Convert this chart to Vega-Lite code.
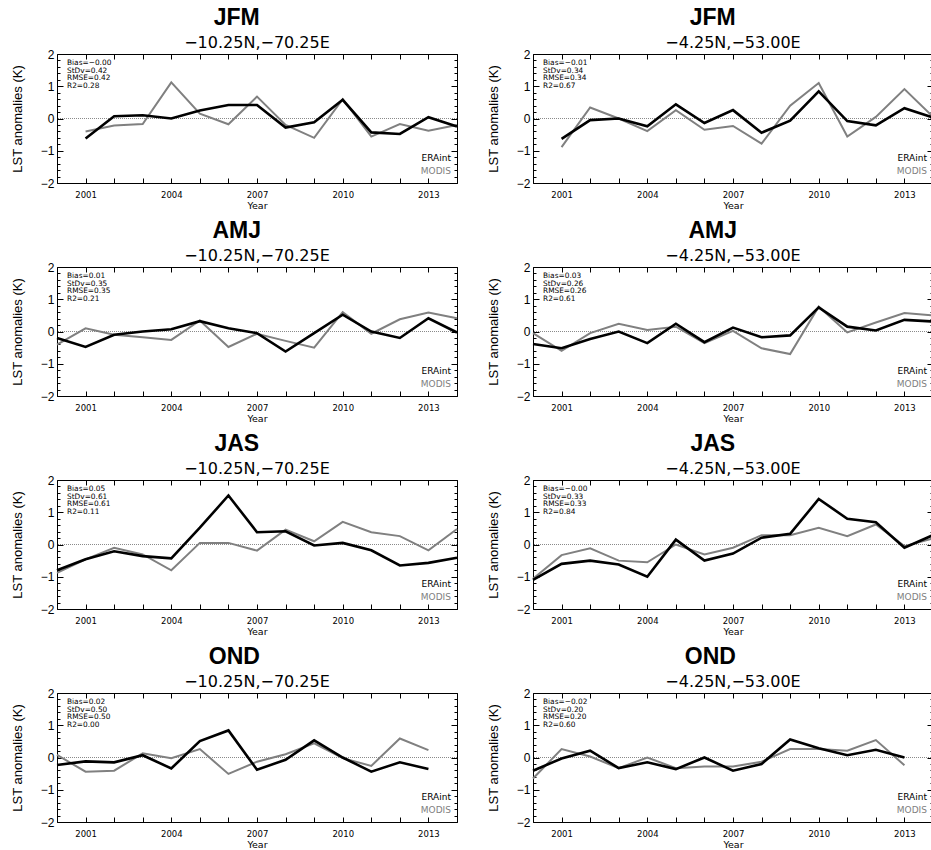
{
"$schema": "https://vega.github.io/schema/vega-lite/v6.json",
"background": "white",
"padding": {"left": 10, "top": 6, "right": 0, "bottom": 0},
"datasets": {
"series": [
{"p":"JFM_A","year":2001,"ERAint":-0.62,"MODIS":-0.40},
{"p":"JFM_A","year":2002,"ERAint":0.07,"MODIS":-0.22},
{"p":"JFM_A","year":2003,"ERAint":0.10,"MODIS":-0.17},
{"p":"JFM_A","year":2004,"ERAint":0.00,"MODIS":1.12},
{"p":"JFM_A","year":2005,"ERAint":0.25,"MODIS":0.15},
{"p":"JFM_A","year":2006,"ERAint":0.42,"MODIS":-0.18},
{"p":"JFM_A","year":2007,"ERAint":0.42,"MODIS":0.68},
{"p":"JFM_A","year":2008,"ERAint":-0.28,"MODIS":-0.20},
{"p":"JFM_A","year":2009,"ERAint":-0.12,"MODIS":-0.60},
{"p":"JFM_A","year":2010,"ERAint":0.58,"MODIS":0.60},
{"p":"JFM_A","year":2011,"ERAint":-0.43,"MODIS":-0.56},
{"p":"JFM_A","year":2012,"ERAint":-0.48,"MODIS":-0.17},
{"p":"JFM_A","year":2013,"ERAint":0.04,"MODIS":-0.38},
{"p":"JFM_A","year":2014,"ERAint":-0.25,"MODIS":-0.20},
{"p":"JFM_B","year":2001,"ERAint":-0.63,"MODIS":-0.89},
{"p":"JFM_B","year":2002,"ERAint":-0.05,"MODIS":0.34},
{"p":"JFM_B","year":2003,"ERAint":0.00,"MODIS":0.00},
{"p":"JFM_B","year":2004,"ERAint":-0.24,"MODIS":-0.39},
{"p":"JFM_B","year":2005,"ERAint":0.44,"MODIS":0.26},
{"p":"JFM_B","year":2006,"ERAint":-0.14,"MODIS":-0.35},
{"p":"JFM_B","year":2007,"ERAint":0.26,"MODIS":-0.23},
{"p":"JFM_B","year":2008,"ERAint":-0.44,"MODIS":-0.78},
{"p":"JFM_B","year":2009,"ERAint":-0.07,"MODIS":0.40},
{"p":"JFM_B","year":2010,"ERAint":0.84,"MODIS":1.10},
{"p":"JFM_B","year":2011,"ERAint":-0.08,"MODIS":-0.56},
{"p":"JFM_B","year":2012,"ERAint":-0.21,"MODIS":0.05},
{"p":"JFM_B","year":2013,"ERAint":0.32,"MODIS":0.91},
{"p":"JFM_B","year":2014,"ERAint":0.03,"MODIS":0.05},
{"p":"AMJ_A","year":2000,"ERAint":-0.20,"MODIS":-0.41},
{"p":"AMJ_A","year":2001,"ERAint":-0.48,"MODIS":0.10},
{"p":"AMJ_A","year":2002,"ERAint":-0.10,"MODIS":-0.10},
{"p":"AMJ_A","year":2003,"ERAint":0.00,"MODIS":-0.18},
{"p":"AMJ_A","year":2004,"ERAint":0.07,"MODIS":-0.26},
{"p":"AMJ_A","year":2005,"ERAint":0.32,"MODIS":0.34},
{"p":"AMJ_A","year":2006,"ERAint":0.10,"MODIS":-0.48},
{"p":"AMJ_A","year":2007,"ERAint":-0.05,"MODIS":-0.07},
{"p":"AMJ_A","year":2008,"ERAint":-0.62,"MODIS":-0.29},
{"p":"AMJ_A","year":2009,"ERAint":-0.05,"MODIS":-0.50},
{"p":"AMJ_A","year":2010,"ERAint":0.52,"MODIS":0.60},
{"p":"AMJ_A","year":2011,"ERAint":0.00,"MODIS":-0.07},
{"p":"AMJ_A","year":2012,"ERAint":-0.20,"MODIS":0.38},
{"p":"AMJ_A","year":2013,"ERAint":0.41,"MODIS":0.59},
{"p":"AMJ_A","year":2014,"ERAint":-0.03,"MODIS":0.41},
{"p":"AMJ_B","year":2000,"ERAint":-0.39,"MODIS":-0.05},
{"p":"AMJ_B","year":2001,"ERAint":-0.52,"MODIS":-0.60},
{"p":"AMJ_B","year":2002,"ERAint":-0.23,"MODIS":-0.05},
{"p":"AMJ_B","year":2003,"ERAint":0.00,"MODIS":0.24},
{"p":"AMJ_B","year":2004,"ERAint":-0.36,"MODIS":0.05},
{"p":"AMJ_B","year":2005,"ERAint":0.24,"MODIS":0.15},
{"p":"AMJ_B","year":2006,"ERAint":-0.33,"MODIS":-0.36},
{"p":"AMJ_B","year":2007,"ERAint":0.12,"MODIS":0.02},
{"p":"AMJ_B","year":2008,"ERAint":-0.18,"MODIS":-0.52},
{"p":"AMJ_B","year":2009,"ERAint":-0.12,"MODIS":-0.70},
{"p":"AMJ_B","year":2010,"ERAint":0.75,"MODIS":0.77},
{"p":"AMJ_B","year":2011,"ERAint":0.15,"MODIS":-0.03},
{"p":"AMJ_B","year":2012,"ERAint":0.03,"MODIS":0.28},
{"p":"AMJ_B","year":2013,"ERAint":0.36,"MODIS":0.57},
{"p":"AMJ_B","year":2014,"ERAint":0.31,"MODIS":0.50},
{"p":"JAS_A","year":2000,"ERAint":-0.80,"MODIS":-0.88},
{"p":"JAS_A","year":2001,"ERAint":-0.46,"MODIS":-0.46},
{"p":"JAS_A","year":2002,"ERAint":-0.21,"MODIS":-0.10},
{"p":"JAS_A","year":2003,"ERAint":-0.36,"MODIS":-0.31},
{"p":"JAS_A","year":2004,"ERAint":-0.43,"MODIS":-0.80},
{"p":"JAS_A","year":2005,"ERAint":0.52,"MODIS":0.05},
{"p":"JAS_A","year":2006,"ERAint":1.52,"MODIS":0.05},
{"p":"JAS_A","year":2007,"ERAint":0.38,"MODIS":-0.19},
{"p":"JAS_A","year":2008,"ERAint":0.41,"MODIS":0.46},
{"p":"JAS_A","year":2009,"ERAint":-0.03,"MODIS":0.10},
{"p":"JAS_A","year":2010,"ERAint":0.05,"MODIS":0.70},
{"p":"JAS_A","year":2011,"ERAint":-0.18,"MODIS":0.38},
{"p":"JAS_A","year":2012,"ERAint":-0.65,"MODIS":0.26},
{"p":"JAS_A","year":2013,"ERAint":-0.57,"MODIS":-0.18},
{"p":"JAS_A","year":2014,"ERAint":-0.41,"MODIS":0.48},
{"p":"JAS_B","year":2000,"ERAint":-1.10,"MODIS":-1.06},
{"p":"JAS_B","year":2001,"ERAint":-0.60,"MODIS":-0.33},
{"p":"JAS_B","year":2002,"ERAint":-0.50,"MODIS":-0.12},
{"p":"JAS_B","year":2003,"ERAint":-0.62,"MODIS":-0.50},
{"p":"JAS_B","year":2004,"ERAint":-1.00,"MODIS":-0.55},
{"p":"JAS_B","year":2005,"ERAint":0.15,"MODIS":0.00},
{"p":"JAS_B","year":2006,"ERAint":-0.50,"MODIS":-0.31},
{"p":"JAS_B","year":2007,"ERAint":-0.28,"MODIS":-0.10},
{"p":"JAS_B","year":2008,"ERAint":0.21,"MODIS":0.29},
{"p":"JAS_B","year":2009,"ERAint":0.33,"MODIS":0.29},
{"p":"JAS_B","year":2010,"ERAint":1.41,"MODIS":0.52},
{"p":"JAS_B","year":2011,"ERAint":0.80,"MODIS":0.26},
{"p":"JAS_B","year":2012,"ERAint":0.69,"MODIS":0.62},
{"p":"JAS_B","year":2013,"ERAint":-0.10,"MODIS":-0.05},
{"p":"JAS_B","year":2014,"ERAint":0.29,"MODIS":0.19},
{"p":"OND_A","year":2000,"ERAint":-0.23,"MODIS":0.08},
{"p":"OND_A","year":2001,"ERAint":-0.12,"MODIS":-0.44},
{"p":"OND_A","year":2002,"ERAint":-0.15,"MODIS":-0.41},
{"p":"OND_A","year":2003,"ERAint":0.07,"MODIS":0.13},
{"p":"OND_A","year":2004,"ERAint":-0.34,"MODIS":-0.02},
{"p":"OND_A","year":2005,"ERAint":0.51,"MODIS":0.26},
{"p":"OND_A","year":2006,"ERAint":0.84,"MODIS":-0.51},
{"p":"OND_A","year":2007,"ERAint":-0.38,"MODIS":-0.13},
{"p":"OND_A","year":2008,"ERAint":-0.07,"MODIS":0.10},
{"p":"OND_A","year":2009,"ERAint":0.53,"MODIS":0.44},
{"p":"OND_A","year":2010,"ERAint":0.00,"MODIS":-0.02},
{"p":"OND_A","year":2011,"ERAint":-0.44,"MODIS":-0.26},
{"p":"OND_A","year":2012,"ERAint":-0.15,"MODIS":0.59},
{"p":"OND_A","year":2013,"ERAint":-0.36,"MODIS":0.23},
{"p":"OND_B","year":2000,"ERAint":-0.41,"MODIS":-0.65},
{"p":"OND_B","year":2001,"ERAint":-0.03,"MODIS":0.26},
{"p":"OND_B","year":2002,"ERAint":0.21,"MODIS":0.03},
{"p":"OND_B","year":2003,"ERAint":-0.33,"MODIS":-0.33},
{"p":"OND_B","year":2004,"ERAint":-0.15,"MODIS":0.00},
{"p":"OND_B","year":2005,"ERAint":-0.36,"MODIS":-0.33},
{"p":"OND_B","year":2006,"ERAint":0.00,"MODIS":-0.28},
{"p":"OND_B","year":2007,"ERAint":-0.41,"MODIS":-0.28},
{"p":"OND_B","year":2008,"ERAint":-0.20,"MODIS":-0.13},
{"p":"OND_B","year":2009,"ERAint":0.56,"MODIS":0.26},
{"p":"OND_B","year":2010,"ERAint":0.29,"MODIS":0.26},
{"p":"OND_B","year":2011,"ERAint":0.07,"MODIS":0.21},
{"p":"OND_B","year":2012,"ERAint":0.24,"MODIS":0.54},
{"p":"OND_B","year":2013,"ERAint":0.00,"MODIS":-0.24}
],
"stats": [
{"p":"JFM_A","loc":"−10.25N,−70.25E","t":"Bias=−0.00\nStDv=0.42\nRMSE=0.42\nR2=0.28"},
{"p":"JFM_B","loc":"−4.25N,−53.00E","t":"Bias=−0.01\nStDv=0.34\nRMSE=0.34\nR2=0.67"},
{"p":"AMJ_A","loc":"−10.25N,−70.25E","t":"Bias=0.01\nStDv=0.35\nRMSE=0.35\nR2=0.21"},
{"p":"AMJ_B","loc":"−4.25N,−53.00E","t":"Bias=0.03\nStDv=0.26\nRMSE=0.26\nR2=0.61"},
{"p":"JAS_A","loc":"−10.25N,−70.25E","t":"Bias=0.05\nStDv=0.61\nRMSE=0.61\nR2=0.11"},
{"p":"JAS_B","loc":"−4.25N,−53.00E","t":"Bias=−0.00\nStDv=0.33\nRMSE=0.33\nR2=0.84"},
{"p":"OND_A","loc":"−10.25N,−70.25E","t":"Bias=0.02\nStDv=0.50\nRMSE=0.50\nR2=0.00"},
{"p":"OND_B","loc":"−4.25N,−53.00E","t":"Bias=−0.02\nStDv=0.20\nRMSE=0.20\nR2=0.60"}
]
},
"columns": 2,
"spacing": {"row": 8, "column": 23},
"concat": [
{"title": {"text": "JFM"}, "width": 400, "height": 129,
  "resolve": {"axis": {"x": "independent", "y": "independent"}},
  "layer": [
   {"data": {"values": [{}]}, "mark": {"type": "rule", "color": "#8a8a8a", "strokeDash": [1, 1], "strokeWidth": 1}, "encoding": {"y": {"datum": 0, "type": "quantitative", "axis": null}}},
   {"data": {"values": [{}]}, "mark": {"type": "point", "opacity": 0}, "encoding": {"x": {"datum": 2000, "type": "quantitative", "axis": {"orient": "top", "values": [2000,2001,2002,2003,2004,2005,2006,2007,2008,2009,2010,2011,2012,2013,2014], "tickSize": -5, "labels": false, "title": null}}, "y": {"datum": 0, "type": "quantitative", "axis": {"orient": "right", "values": [-2,-1,0,1,2], "tickSize": -6, "labels": false, "title": null}}}},
   {"data": {"values": [{}]}, "mark": {"type": "point", "opacity": 0}, "encoding": {"x": {"datum": 2000, "type": "quantitative", "axis": null}, "y": {"datum": 0, "type": "quantitative", "axis": {"orient": "left", "values": [-1.8,-1.6,-1.4,-1.2,-0.8,-0.6,-0.4,-0.2,0.2,0.4,0.6,0.8,1.2,1.4,1.6,1.8], "tickSize": -3, "labels": false, "title": null}}}},
   {"data": {"values": [{}]}, "mark": {"type": "point", "opacity": 0}, "encoding": {"x": {"datum": 2000, "type": "quantitative", "axis": null}, "y": {"datum": 0, "type": "quantitative", "axis": {"orient": "right", "values": [-1.8,-1.6,-1.4,-1.2,-0.8,-0.6,-0.4,-0.2,0.2,0.4,0.6,0.8,1.2,1.4,1.6,1.8], "tickSize": -3, "labels": false, "title": null}}}},
   {"data": {"name": "series"}, "transform": [{"filter": "datum.p == 'JFM_A'"}], "mark": {"type": "line", "color": "#808080", "strokeWidth": 2}, "encoding": {"x": {"field": "year", "type": "quantitative", "scale": {"domain": [2000, 2014], "nice": false, "zero": false}, "axis": {"orient": "bottom", "values": [2000,2001,2002,2003,2004,2005,2006,2007,2008,2009,2010,2011,2012,2013,2014], "format": "d", "labelExpr": "datum.value % 3 == 0 ? datum.label : ''", "tickSize": -5, "labelPadding": 12, "title": "Year", "titlePadding": 2}}, "y": {"field": "MODIS", "type": "quantitative", "scale": {"domain": [-2, 2], "nice": false}, "axis": {"orient": "left", "values": [-2,-1,0,1,2], "format": "d", "tickSize": -6, "labelPadding": 9, "title": "LST anomalies (K)", "titlePadding": 16}}}},
   {"data": {"name": "series"}, "transform": [{"filter": "datum.p == 'JFM_A'"}], "mark": {"type": "line", "color": "black", "strokeWidth": 2.6}, "encoding": {"x": {"field": "year", "type": "quantitative", "axis": null}, "y": {"field": "ERAint", "type": "quantitative", "axis": null}}},
   {"data": {"name": "stats"}, "transform": [{"filter": "datum.p == 'JFM_A'"}], "mark": {"type": "text", "align": "left", "baseline": "top", "dx": 10, "dy": 5, "lineBreak": "\n", "lineHeight": 7.5, "font": "DejaVu Sans", "fontSize": 7.4, "color": "black"}, "encoding": {"x": {"datum": 2000, "type": "quantitative", "axis": null}, "y": {"datum": 2, "type": "quantitative", "axis": null}, "text": {"field": "t"}}},
   {"data": {"name": "stats"}, "transform": [{"filter": "datum.p == 'JFM_A'"}], "mark": {"type": "text", "align": "center", "baseline": "alphabetic", "dy": -6, "font": "DejaVu Sans", "fontSize": 16, "color": "black"}, "encoding": {"x": {"datum": 2007, "type": "quantitative", "axis": null}, "y": {"datum": 2, "type": "quantitative", "axis": null}, "text": {"field": "loc"}}},
   {"data": {"values": [{}]}, "mark": {"type": "text", "text": "ERAint", "align": "right", "baseline": "middle", "dx": -6, "font": "DejaVu Sans", "fontSize": 9, "color": "black"}, "encoding": {"x": {"datum": 2014, "type": "quantitative", "axis": null}, "y": {"datum": -1.22, "type": "quantitative", "axis": null}}},
   {"data": {"values": [{}]}, "mark": {"type": "text", "text": "MODIS", "align": "right", "baseline": "middle", "dx": -6, "font": "DejaVu Sans", "fontSize": 9, "color": "#808080"}, "encoding": {"x": {"datum": 2014, "type": "quantitative", "axis": null}, "y": {"datum": -1.63, "type": "quantitative", "axis": null}}}
  ]
},
{"title": {"text": "JFM"}, "width": 400, "height": 129,
  "resolve": {"axis": {"x": "independent", "y": "independent"}},
  "layer": [
   {"data": {"values": [{}]}, "mark": {"type": "rule", "color": "#8a8a8a", "strokeDash": [1, 1], "strokeWidth": 1}, "encoding": {"y": {"datum": 0, "type": "quantitative", "axis": null}}},
   {"data": {"values": [{}]}, "mark": {"type": "point", "opacity": 0}, "encoding": {"x": {"datum": 2000, "type": "quantitative", "axis": {"orient": "top", "values": [2000,2001,2002,2003,2004,2005,2006,2007,2008,2009,2010,2011,2012,2013,2014], "tickSize": -5, "labels": false, "title": null}}, "y": {"datum": 0, "type": "quantitative", "axis": {"orient": "right", "values": [-2,-1,0,1,2], "tickSize": -6, "labels": false, "title": null}}}},
   {"data": {"values": [{}]}, "mark": {"type": "point", "opacity": 0}, "encoding": {"x": {"datum": 2000, "type": "quantitative", "axis": null}, "y": {"datum": 0, "type": "quantitative", "axis": {"orient": "left", "values": [-1.8,-1.6,-1.4,-1.2,-0.8,-0.6,-0.4,-0.2,0.2,0.4,0.6,0.8,1.2,1.4,1.6,1.8], "tickSize": -3, "labels": false, "title": null}}}},
   {"data": {"values": [{}]}, "mark": {"type": "point", "opacity": 0}, "encoding": {"x": {"datum": 2000, "type": "quantitative", "axis": null}, "y": {"datum": 0, "type": "quantitative", "axis": {"orient": "right", "values": [-1.8,-1.6,-1.4,-1.2,-0.8,-0.6,-0.4,-0.2,0.2,0.4,0.6,0.8,1.2,1.4,1.6,1.8], "tickSize": -3, "labels": false, "title": null}}}},
   {"data": {"name": "series"}, "transform": [{"filter": "datum.p == 'JFM_B'"}], "mark": {"type": "line", "color": "#808080", "strokeWidth": 2}, "encoding": {"x": {"field": "year", "type": "quantitative", "scale": {"domain": [2000, 2014], "nice": false, "zero": false}, "axis": {"orient": "bottom", "values": [2000,2001,2002,2003,2004,2005,2006,2007,2008,2009,2010,2011,2012,2013,2014], "format": "d", "labelExpr": "datum.value % 3 == 0 ? datum.label : ''", "tickSize": -5, "labelPadding": 12, "title": "Year", "titlePadding": 2}}, "y": {"field": "MODIS", "type": "quantitative", "scale": {"domain": [-2, 2], "nice": false}, "axis": {"orient": "left", "values": [-2,-1,0,1,2], "format": "d", "tickSize": -6, "labelPadding": 9, "title": "LST anomalies (K)", "titlePadding": 16}}}},
   {"data": {"name": "series"}, "transform": [{"filter": "datum.p == 'JFM_B'"}], "mark": {"type": "line", "color": "black", "strokeWidth": 2.6}, "encoding": {"x": {"field": "year", "type": "quantitative", "axis": null}, "y": {"field": "ERAint", "type": "quantitative", "axis": null}}},
   {"data": {"name": "stats"}, "transform": [{"filter": "datum.p == 'JFM_B'"}], "mark": {"type": "text", "align": "left", "baseline": "top", "dx": 10, "dy": 5, "lineBreak": "\n", "lineHeight": 7.5, "font": "DejaVu Sans", "fontSize": 7.4, "color": "black"}, "encoding": {"x": {"datum": 2000, "type": "quantitative", "axis": null}, "y": {"datum": 2, "type": "quantitative", "axis": null}, "text": {"field": "t"}}},
   {"data": {"name": "stats"}, "transform": [{"filter": "datum.p == 'JFM_B'"}], "mark": {"type": "text", "align": "center", "baseline": "alphabetic", "dy": -6, "font": "DejaVu Sans", "fontSize": 16, "color": "black"}, "encoding": {"x": {"datum": 2007, "type": "quantitative", "axis": null}, "y": {"datum": 2, "type": "quantitative", "axis": null}, "text": {"field": "loc"}}},
   {"data": {"values": [{}]}, "mark": {"type": "text", "text": "ERAint", "align": "right", "baseline": "middle", "dx": -6, "font": "DejaVu Sans", "fontSize": 9, "color": "black"}, "encoding": {"x": {"datum": 2014, "type": "quantitative", "axis": null}, "y": {"datum": -1.22, "type": "quantitative", "axis": null}}},
   {"data": {"values": [{}]}, "mark": {"type": "text", "text": "MODIS", "align": "right", "baseline": "middle", "dx": -6, "font": "DejaVu Sans", "fontSize": 9, "color": "#808080"}, "encoding": {"x": {"datum": 2014, "type": "quantitative", "axis": null}, "y": {"datum": -1.63, "type": "quantitative", "axis": null}}}
  ]
},
{"title": {"text": "AMJ"}, "width": 400, "height": 129,
  "resolve": {"axis": {"x": "independent", "y": "independent"}},
  "layer": [
   {"data": {"values": [{}]}, "mark": {"type": "rule", "color": "#8a8a8a", "strokeDash": [1, 1], "strokeWidth": 1}, "encoding": {"y": {"datum": 0, "type": "quantitative", "axis": null}}},
   {"data": {"values": [{}]}, "mark": {"type": "point", "opacity": 0}, "encoding": {"x": {"datum": 2000, "type": "quantitative", "axis": {"orient": "top", "values": [2000,2001,2002,2003,2004,2005,2006,2007,2008,2009,2010,2011,2012,2013,2014], "tickSize": -5, "labels": false, "title": null}}, "y": {"datum": 0, "type": "quantitative", "axis": {"orient": "right", "values": [-2,-1,0,1,2], "tickSize": -6, "labels": false, "title": null}}}},
   {"data": {"values": [{}]}, "mark": {"type": "point", "opacity": 0}, "encoding": {"x": {"datum": 2000, "type": "quantitative", "axis": null}, "y": {"datum": 0, "type": "quantitative", "axis": {"orient": "left", "values": [-1.8,-1.6,-1.4,-1.2,-0.8,-0.6,-0.4,-0.2,0.2,0.4,0.6,0.8,1.2,1.4,1.6,1.8], "tickSize": -3, "labels": false, "title": null}}}},
   {"data": {"values": [{}]}, "mark": {"type": "point", "opacity": 0}, "encoding": {"x": {"datum": 2000, "type": "quantitative", "axis": null}, "y": {"datum": 0, "type": "quantitative", "axis": {"orient": "right", "values": [-1.8,-1.6,-1.4,-1.2,-0.8,-0.6,-0.4,-0.2,0.2,0.4,0.6,0.8,1.2,1.4,1.6,1.8], "tickSize": -3, "labels": false, "title": null}}}},
   {"data": {"name": "series"}, "transform": [{"filter": "datum.p == 'AMJ_A'"}], "mark": {"type": "line", "color": "#808080", "strokeWidth": 2}, "encoding": {"x": {"field": "year", "type": "quantitative", "scale": {"domain": [2000, 2014], "nice": false, "zero": false}, "axis": {"orient": "bottom", "values": [2000,2001,2002,2003,2004,2005,2006,2007,2008,2009,2010,2011,2012,2013,2014], "format": "d", "labelExpr": "datum.value % 3 == 0 ? datum.label : ''", "tickSize": -5, "labelPadding": 12, "title": "Year", "titlePadding": 2}}, "y": {"field": "MODIS", "type": "quantitative", "scale": {"domain": [-2, 2], "nice": false}, "axis": {"orient": "left", "values": [-2,-1,0,1,2], "format": "d", "tickSize": -6, "labelPadding": 9, "title": "LST anomalies (K)", "titlePadding": 16}}}},
   {"data": {"name": "series"}, "transform": [{"filter": "datum.p == 'AMJ_A'"}], "mark": {"type": "line", "color": "black", "strokeWidth": 2.6}, "encoding": {"x": {"field": "year", "type": "quantitative", "axis": null}, "y": {"field": "ERAint", "type": "quantitative", "axis": null}}},
   {"data": {"name": "stats"}, "transform": [{"filter": "datum.p == 'AMJ_A'"}], "mark": {"type": "text", "align": "left", "baseline": "top", "dx": 10, "dy": 5, "lineBreak": "\n", "lineHeight": 7.5, "font": "DejaVu Sans", "fontSize": 7.4, "color": "black"}, "encoding": {"x": {"datum": 2000, "type": "quantitative", "axis": null}, "y": {"datum": 2, "type": "quantitative", "axis": null}, "text": {"field": "t"}}},
   {"data": {"name": "stats"}, "transform": [{"filter": "datum.p == 'AMJ_A'"}], "mark": {"type": "text", "align": "center", "baseline": "alphabetic", "dy": -6, "font": "DejaVu Sans", "fontSize": 16, "color": "black"}, "encoding": {"x": {"datum": 2007, "type": "quantitative", "axis": null}, "y": {"datum": 2, "type": "quantitative", "axis": null}, "text": {"field": "loc"}}},
   {"data": {"values": [{}]}, "mark": {"type": "text", "text": "ERAint", "align": "right", "baseline": "middle", "dx": -6, "font": "DejaVu Sans", "fontSize": 9, "color": "black"}, "encoding": {"x": {"datum": 2014, "type": "quantitative", "axis": null}, "y": {"datum": -1.22, "type": "quantitative", "axis": null}}},
   {"data": {"values": [{}]}, "mark": {"type": "text", "text": "MODIS", "align": "right", "baseline": "middle", "dx": -6, "font": "DejaVu Sans", "fontSize": 9, "color": "#808080"}, "encoding": {"x": {"datum": 2014, "type": "quantitative", "axis": null}, "y": {"datum": -1.63, "type": "quantitative", "axis": null}}}
  ]
},
{"title": {"text": "AMJ"}, "width": 400, "height": 129,
  "resolve": {"axis": {"x": "independent", "y": "independent"}},
  "layer": [
   {"data": {"values": [{}]}, "mark": {"type": "rule", "color": "#8a8a8a", "strokeDash": [1, 1], "strokeWidth": 1}, "encoding": {"y": {"datum": 0, "type": "quantitative", "axis": null}}},
   {"data": {"values": [{}]}, "mark": {"type": "point", "opacity": 0}, "encoding": {"x": {"datum": 2000, "type": "quantitative", "axis": {"orient": "top", "values": [2000,2001,2002,2003,2004,2005,2006,2007,2008,2009,2010,2011,2012,2013,2014], "tickSize": -5, "labels": false, "title": null}}, "y": {"datum": 0, "type": "quantitative", "axis": {"orient": "right", "values": [-2,-1,0,1,2], "tickSize": -6, "labels": false, "title": null}}}},
   {"data": {"values": [{}]}, "mark": {"type": "point", "opacity": 0}, "encoding": {"x": {"datum": 2000, "type": "quantitative", "axis": null}, "y": {"datum": 0, "type": "quantitative", "axis": {"orient": "left", "values": [-1.8,-1.6,-1.4,-1.2,-0.8,-0.6,-0.4,-0.2,0.2,0.4,0.6,0.8,1.2,1.4,1.6,1.8], "tickSize": -3, "labels": false, "title": null}}}},
   {"data": {"values": [{}]}, "mark": {"type": "point", "opacity": 0}, "encoding": {"x": {"datum": 2000, "type": "quantitative", "axis": null}, "y": {"datum": 0, "type": "quantitative", "axis": {"orient": "right", "values": [-1.8,-1.6,-1.4,-1.2,-0.8,-0.6,-0.4,-0.2,0.2,0.4,0.6,0.8,1.2,1.4,1.6,1.8], "tickSize": -3, "labels": false, "title": null}}}},
   {"data": {"name": "series"}, "transform": [{"filter": "datum.p == 'AMJ_B'"}], "mark": {"type": "line", "color": "#808080", "strokeWidth": 2}, "encoding": {"x": {"field": "year", "type": "quantitative", "scale": {"domain": [2000, 2014], "nice": false, "zero": false}, "axis": {"orient": "bottom", "values": [2000,2001,2002,2003,2004,2005,2006,2007,2008,2009,2010,2011,2012,2013,2014], "format": "d", "labelExpr": "datum.value % 3 == 0 ? datum.label : ''", "tickSize": -5, "labelPadding": 12, "title": "Year", "titlePadding": 2}}, "y": {"field": "MODIS", "type": "quantitative", "scale": {"domain": [-2, 2], "nice": false}, "axis": {"orient": "left", "values": [-2,-1,0,1,2], "format": "d", "tickSize": -6, "labelPadding": 9, "title": "LST anomalies (K)", "titlePadding": 16}}}},
   {"data": {"name": "series"}, "transform": [{"filter": "datum.p == 'AMJ_B'"}], "mark": {"type": "line", "color": "black", "strokeWidth": 2.6}, "encoding": {"x": {"field": "year", "type": "quantitative", "axis": null}, "y": {"field": "ERAint", "type": "quantitative", "axis": null}}},
   {"data": {"name": "stats"}, "transform": [{"filter": "datum.p == 'AMJ_B'"}], "mark": {"type": "text", "align": "left", "baseline": "top", "dx": 10, "dy": 5, "lineBreak": "\n", "lineHeight": 7.5, "font": "DejaVu Sans", "fontSize": 7.4, "color": "black"}, "encoding": {"x": {"datum": 2000, "type": "quantitative", "axis": null}, "y": {"datum": 2, "type": "quantitative", "axis": null}, "text": {"field": "t"}}},
   {"data": {"name": "stats"}, "transform": [{"filter": "datum.p == 'AMJ_B'"}], "mark": {"type": "text", "align": "center", "baseline": "alphabetic", "dy": -6, "font": "DejaVu Sans", "fontSize": 16, "color": "black"}, "encoding": {"x": {"datum": 2007, "type": "quantitative", "axis": null}, "y": {"datum": 2, "type": "quantitative", "axis": null}, "text": {"field": "loc"}}},
   {"data": {"values": [{}]}, "mark": {"type": "text", "text": "ERAint", "align": "right", "baseline": "middle", "dx": -6, "font": "DejaVu Sans", "fontSize": 9, "color": "black"}, "encoding": {"x": {"datum": 2014, "type": "quantitative", "axis": null}, "y": {"datum": -1.22, "type": "quantitative", "axis": null}}},
   {"data": {"values": [{}]}, "mark": {"type": "text", "text": "MODIS", "align": "right", "baseline": "middle", "dx": -6, "font": "DejaVu Sans", "fontSize": 9, "color": "#808080"}, "encoding": {"x": {"datum": 2014, "type": "quantitative", "axis": null}, "y": {"datum": -1.63, "type": "quantitative", "axis": null}}}
  ]
},
{"title": {"text": "JAS"}, "width": 400, "height": 129,
  "resolve": {"axis": {"x": "independent", "y": "independent"}},
  "layer": [
   {"data": {"values": [{}]}, "mark": {"type": "rule", "color": "#8a8a8a", "strokeDash": [1, 1], "strokeWidth": 1}, "encoding": {"y": {"datum": 0, "type": "quantitative", "axis": null}}},
   {"data": {"values": [{}]}, "mark": {"type": "point", "opacity": 0}, "encoding": {"x": {"datum": 2000, "type": "quantitative", "axis": {"orient": "top", "values": [2000,2001,2002,2003,2004,2005,2006,2007,2008,2009,2010,2011,2012,2013,2014], "tickSize": -5, "labels": false, "title": null}}, "y": {"datum": 0, "type": "quantitative", "axis": {"orient": "right", "values": [-2,-1,0,1,2], "tickSize": -6, "labels": false, "title": null}}}},
   {"data": {"values": [{}]}, "mark": {"type": "point", "opacity": 0}, "encoding": {"x": {"datum": 2000, "type": "quantitative", "axis": null}, "y": {"datum": 0, "type": "quantitative", "axis": {"orient": "left", "values": [-1.8,-1.6,-1.4,-1.2,-0.8,-0.6,-0.4,-0.2,0.2,0.4,0.6,0.8,1.2,1.4,1.6,1.8], "tickSize": -3, "labels": false, "title": null}}}},
   {"data": {"values": [{}]}, "mark": {"type": "point", "opacity": 0}, "encoding": {"x": {"datum": 2000, "type": "quantitative", "axis": null}, "y": {"datum": 0, "type": "quantitative", "axis": {"orient": "right", "values": [-1.8,-1.6,-1.4,-1.2,-0.8,-0.6,-0.4,-0.2,0.2,0.4,0.6,0.8,1.2,1.4,1.6,1.8], "tickSize": -3, "labels": false, "title": null}}}},
   {"data": {"name": "series"}, "transform": [{"filter": "datum.p == 'JAS_A'"}], "mark": {"type": "line", "color": "#808080", "strokeWidth": 2}, "encoding": {"x": {"field": "year", "type": "quantitative", "scale": {"domain": [2000, 2014], "nice": false, "zero": false}, "axis": {"orient": "bottom", "values": [2000,2001,2002,2003,2004,2005,2006,2007,2008,2009,2010,2011,2012,2013,2014], "format": "d", "labelExpr": "datum.value % 3 == 0 ? datum.label : ''", "tickSize": -5, "labelPadding": 12, "title": "Year", "titlePadding": 2}}, "y": {"field": "MODIS", "type": "quantitative", "scale": {"domain": [-2, 2], "nice": false}, "axis": {"orient": "left", "values": [-2,-1,0,1,2], "format": "d", "tickSize": -6, "labelPadding": 9, "title": "LST anomalies (K)", "titlePadding": 16}}}},
   {"data": {"name": "series"}, "transform": [{"filter": "datum.p == 'JAS_A'"}], "mark": {"type": "line", "color": "black", "strokeWidth": 2.6}, "encoding": {"x": {"field": "year", "type": "quantitative", "axis": null}, "y": {"field": "ERAint", "type": "quantitative", "axis": null}}},
   {"data": {"name": "stats"}, "transform": [{"filter": "datum.p == 'JAS_A'"}], "mark": {"type": "text", "align": "left", "baseline": "top", "dx": 10, "dy": 5, "lineBreak": "\n", "lineHeight": 7.5, "font": "DejaVu Sans", "fontSize": 7.4, "color": "black"}, "encoding": {"x": {"datum": 2000, "type": "quantitative", "axis": null}, "y": {"datum": 2, "type": "quantitative", "axis": null}, "text": {"field": "t"}}},
   {"data": {"name": "stats"}, "transform": [{"filter": "datum.p == 'JAS_A'"}], "mark": {"type": "text", "align": "center", "baseline": "alphabetic", "dy": -6, "font": "DejaVu Sans", "fontSize": 16, "color": "black"}, "encoding": {"x": {"datum": 2007, "type": "quantitative", "axis": null}, "y": {"datum": 2, "type": "quantitative", "axis": null}, "text": {"field": "loc"}}},
   {"data": {"values": [{}]}, "mark": {"type": "text", "text": "ERAint", "align": "right", "baseline": "middle", "dx": -6, "font": "DejaVu Sans", "fontSize": 9, "color": "black"}, "encoding": {"x": {"datum": 2014, "type": "quantitative", "axis": null}, "y": {"datum": -1.22, "type": "quantitative", "axis": null}}},
   {"data": {"values": [{}]}, "mark": {"type": "text", "text": "MODIS", "align": "right", "baseline": "middle", "dx": -6, "font": "DejaVu Sans", "fontSize": 9, "color": "#808080"}, "encoding": {"x": {"datum": 2014, "type": "quantitative", "axis": null}, "y": {"datum": -1.63, "type": "quantitative", "axis": null}}}
  ]
},
{"title": {"text": "JAS"}, "width": 400, "height": 129,
  "resolve": {"axis": {"x": "independent", "y": "independent"}},
  "layer": [
   {"data": {"values": [{}]}, "mark": {"type": "rule", "color": "#8a8a8a", "strokeDash": [1, 1], "strokeWidth": 1}, "encoding": {"y": {"datum": 0, "type": "quantitative", "axis": null}}},
   {"data": {"values": [{}]}, "mark": {"type": "point", "opacity": 0}, "encoding": {"x": {"datum": 2000, "type": "quantitative", "axis": {"orient": "top", "values": [2000,2001,2002,2003,2004,2005,2006,2007,2008,2009,2010,2011,2012,2013,2014], "tickSize": -5, "labels": false, "title": null}}, "y": {"datum": 0, "type": "quantitative", "axis": {"orient": "right", "values": [-2,-1,0,1,2], "tickSize": -6, "labels": false, "title": null}}}},
   {"data": {"values": [{}]}, "mark": {"type": "point", "opacity": 0}, "encoding": {"x": {"datum": 2000, "type": "quantitative", "axis": null}, "y": {"datum": 0, "type": "quantitative", "axis": {"orient": "left", "values": [-1.8,-1.6,-1.4,-1.2,-0.8,-0.6,-0.4,-0.2,0.2,0.4,0.6,0.8,1.2,1.4,1.6,1.8], "tickSize": -3, "labels": false, "title": null}}}},
   {"data": {"values": [{}]}, "mark": {"type": "point", "opacity": 0}, "encoding": {"x": {"datum": 2000, "type": "quantitative", "axis": null}, "y": {"datum": 0, "type": "quantitative", "axis": {"orient": "right", "values": [-1.8,-1.6,-1.4,-1.2,-0.8,-0.6,-0.4,-0.2,0.2,0.4,0.6,0.8,1.2,1.4,1.6,1.8], "tickSize": -3, "labels": false, "title": null}}}},
   {"data": {"name": "series"}, "transform": [{"filter": "datum.p == 'JAS_B'"}], "mark": {"type": "line", "color": "#808080", "strokeWidth": 2}, "encoding": {"x": {"field": "year", "type": "quantitative", "scale": {"domain": [2000, 2014], "nice": false, "zero": false}, "axis": {"orient": "bottom", "values": [2000,2001,2002,2003,2004,2005,2006,2007,2008,2009,2010,2011,2012,2013,2014], "format": "d", "labelExpr": "datum.value % 3 == 0 ? datum.label : ''", "tickSize": -5, "labelPadding": 12, "title": "Year", "titlePadding": 2}}, "y": {"field": "MODIS", "type": "quantitative", "scale": {"domain": [-2, 2], "nice": false}, "axis": {"orient": "left", "values": [-2,-1,0,1,2], "format": "d", "tickSize": -6, "labelPadding": 9, "title": "LST anomalies (K)", "titlePadding": 16}}}},
   {"data": {"name": "series"}, "transform": [{"filter": "datum.p == 'JAS_B'"}], "mark": {"type": "line", "color": "black", "strokeWidth": 2.6}, "encoding": {"x": {"field": "year", "type": "quantitative", "axis": null}, "y": {"field": "ERAint", "type": "quantitative", "axis": null}}},
   {"data": {"name": "stats"}, "transform": [{"filter": "datum.p == 'JAS_B'"}], "mark": {"type": "text", "align": "left", "baseline": "top", "dx": 10, "dy": 5, "lineBreak": "\n", "lineHeight": 7.5, "font": "DejaVu Sans", "fontSize": 7.4, "color": "black"}, "encoding": {"x": {"datum": 2000, "type": "quantitative", "axis": null}, "y": {"datum": 2, "type": "quantitative", "axis": null}, "text": {"field": "t"}}},
   {"data": {"name": "stats"}, "transform": [{"filter": "datum.p == 'JAS_B'"}], "mark": {"type": "text", "align": "center", "baseline": "alphabetic", "dy": -6, "font": "DejaVu Sans", "fontSize": 16, "color": "black"}, "encoding": {"x": {"datum": 2007, "type": "quantitative", "axis": null}, "y": {"datum": 2, "type": "quantitative", "axis": null}, "text": {"field": "loc"}}},
   {"data": {"values": [{}]}, "mark": {"type": "text", "text": "ERAint", "align": "right", "baseline": "middle", "dx": -6, "font": "DejaVu Sans", "fontSize": 9, "color": "black"}, "encoding": {"x": {"datum": 2014, "type": "quantitative", "axis": null}, "y": {"datum": -1.22, "type": "quantitative", "axis": null}}},
   {"data": {"values": [{}]}, "mark": {"type": "text", "text": "MODIS", "align": "right", "baseline": "middle", "dx": -6, "font": "DejaVu Sans", "fontSize": 9, "color": "#808080"}, "encoding": {"x": {"datum": 2014, "type": "quantitative", "axis": null}, "y": {"datum": -1.63, "type": "quantitative", "axis": null}}}
  ]
},
{"title": {"text": "OND"}, "width": 400, "height": 129,
  "resolve": {"axis": {"x": "independent", "y": "independent"}},
  "layer": [
   {"data": {"values": [{}]}, "mark": {"type": "rule", "color": "#8a8a8a", "strokeDash": [1, 1], "strokeWidth": 1}, "encoding": {"y": {"datum": 0, "type": "quantitative", "axis": null}}},
   {"data": {"values": [{}]}, "mark": {"type": "point", "opacity": 0}, "encoding": {"x": {"datum": 2000, "type": "quantitative", "axis": {"orient": "top", "values": [2000,2001,2002,2003,2004,2005,2006,2007,2008,2009,2010,2011,2012,2013,2014], "tickSize": -5, "labels": false, "title": null}}, "y": {"datum": 0, "type": "quantitative", "axis": {"orient": "right", "values": [-2,-1,0,1,2], "tickSize": -6, "labels": false, "title": null}}}},
   {"data": {"values": [{}]}, "mark": {"type": "point", "opacity": 0}, "encoding": {"x": {"datum": 2000, "type": "quantitative", "axis": null}, "y": {"datum": 0, "type": "quantitative", "axis": {"orient": "left", "values": [-1.8,-1.6,-1.4,-1.2,-0.8,-0.6,-0.4,-0.2,0.2,0.4,0.6,0.8,1.2,1.4,1.6,1.8], "tickSize": -3, "labels": false, "title": null}}}},
   {"data": {"values": [{}]}, "mark": {"type": "point", "opacity": 0}, "encoding": {"x": {"datum": 2000, "type": "quantitative", "axis": null}, "y": {"datum": 0, "type": "quantitative", "axis": {"orient": "right", "values": [-1.8,-1.6,-1.4,-1.2,-0.8,-0.6,-0.4,-0.2,0.2,0.4,0.6,0.8,1.2,1.4,1.6,1.8], "tickSize": -3, "labels": false, "title": null}}}},
   {"data": {"name": "series"}, "transform": [{"filter": "datum.p == 'OND_A'"}], "mark": {"type": "line", "color": "#808080", "strokeWidth": 2}, "encoding": {"x": {"field": "year", "type": "quantitative", "scale": {"domain": [2000, 2014], "nice": false, "zero": false}, "axis": {"orient": "bottom", "values": [2000,2001,2002,2003,2004,2005,2006,2007,2008,2009,2010,2011,2012,2013,2014], "format": "d", "labelExpr": "datum.value % 3 == 0 ? datum.label : ''", "tickSize": -5, "labelPadding": 12, "title": "Year", "titlePadding": 2}}, "y": {"field": "MODIS", "type": "quantitative", "scale": {"domain": [-2, 2], "nice": false}, "axis": {"orient": "left", "values": [-2,-1,0,1,2], "format": "d", "tickSize": -6, "labelPadding": 9, "title": "LST anomalies (K)", "titlePadding": 16}}}},
   {"data": {"name": "series"}, "transform": [{"filter": "datum.p == 'OND_A'"}], "mark": {"type": "line", "color": "black", "strokeWidth": 2.6}, "encoding": {"x": {"field": "year", "type": "quantitative", "axis": null}, "y": {"field": "ERAint", "type": "quantitative", "axis": null}}},
   {"data": {"name": "stats"}, "transform": [{"filter": "datum.p == 'OND_A'"}], "mark": {"type": "text", "align": "left", "baseline": "top", "dx": 10, "dy": 5, "lineBreak": "\n", "lineHeight": 7.5, "font": "DejaVu Sans", "fontSize": 7.4, "color": "black"}, "encoding": {"x": {"datum": 2000, "type": "quantitative", "axis": null}, "y": {"datum": 2, "type": "quantitative", "axis": null}, "text": {"field": "t"}}},
   {"data": {"name": "stats"}, "transform": [{"filter": "datum.p == 'OND_A'"}], "mark": {"type": "text", "align": "center", "baseline": "alphabetic", "dy": -6, "font": "DejaVu Sans", "fontSize": 16, "color": "black"}, "encoding": {"x": {"datum": 2007, "type": "quantitative", "axis": null}, "y": {"datum": 2, "type": "quantitative", "axis": null}, "text": {"field": "loc"}}},
   {"data": {"values": [{}]}, "mark": {"type": "text", "text": "ERAint", "align": "right", "baseline": "middle", "dx": -6, "font": "DejaVu Sans", "fontSize": 9, "color": "black"}, "encoding": {"x": {"datum": 2014, "type": "quantitative", "axis": null}, "y": {"datum": -1.22, "type": "quantitative", "axis": null}}},
   {"data": {"values": [{}]}, "mark": {"type": "text", "text": "MODIS", "align": "right", "baseline": "middle", "dx": -6, "font": "DejaVu Sans", "fontSize": 9, "color": "#808080"}, "encoding": {"x": {"datum": 2014, "type": "quantitative", "axis": null}, "y": {"datum": -1.63, "type": "quantitative", "axis": null}}}
  ]
},
{"title": {"text": "OND"}, "width": 400, "height": 129,
  "resolve": {"axis": {"x": "independent", "y": "independent"}},
  "layer": [
   {"data": {"values": [{}]}, "mark": {"type": "rule", "color": "#8a8a8a", "strokeDash": [1, 1], "strokeWidth": 1}, "encoding": {"y": {"datum": 0, "type": "quantitative", "axis": null}}},
   {"data": {"values": [{}]}, "mark": {"type": "point", "opacity": 0}, "encoding": {"x": {"datum": 2000, "type": "quantitative", "axis": {"orient": "top", "values": [2000,2001,2002,2003,2004,2005,2006,2007,2008,2009,2010,2011,2012,2013,2014], "tickSize": -5, "labels": false, "title": null}}, "y": {"datum": 0, "type": "quantitative", "axis": {"orient": "right", "values": [-2,-1,0,1,2], "tickSize": -6, "labels": false, "title": null}}}},
   {"data": {"values": [{}]}, "mark": {"type": "point", "opacity": 0}, "encoding": {"x": {"datum": 2000, "type": "quantitative", "axis": null}, "y": {"datum": 0, "type": "quantitative", "axis": {"orient": "left", "values": [-1.8,-1.6,-1.4,-1.2,-0.8,-0.6,-0.4,-0.2,0.2,0.4,0.6,0.8,1.2,1.4,1.6,1.8], "tickSize": -3, "labels": false, "title": null}}}},
   {"data": {"values": [{}]}, "mark": {"type": "point", "opacity": 0}, "encoding": {"x": {"datum": 2000, "type": "quantitative", "axis": null}, "y": {"datum": 0, "type": "quantitative", "axis": {"orient": "right", "values": [-1.8,-1.6,-1.4,-1.2,-0.8,-0.6,-0.4,-0.2,0.2,0.4,0.6,0.8,1.2,1.4,1.6,1.8], "tickSize": -3, "labels": false, "title": null}}}},
   {"data": {"name": "series"}, "transform": [{"filter": "datum.p == 'OND_B'"}], "mark": {"type": "line", "color": "#808080", "strokeWidth": 2}, "encoding": {"x": {"field": "year", "type": "quantitative", "scale": {"domain": [2000, 2014], "nice": false, "zero": false}, "axis": {"orient": "bottom", "values": [2000,2001,2002,2003,2004,2005,2006,2007,2008,2009,2010,2011,2012,2013,2014], "format": "d", "labelExpr": "datum.value % 3 == 0 ? datum.label : ''", "tickSize": -5, "labelPadding": 12, "title": "Year", "titlePadding": 2}}, "y": {"field": "MODIS", "type": "quantitative", "scale": {"domain": [-2, 2], "nice": false}, "axis": {"orient": "left", "values": [-2,-1,0,1,2], "format": "d", "tickSize": -6, "labelPadding": 9, "title": "LST anomalies (K)", "titlePadding": 16}}}},
   {"data": {"name": "series"}, "transform": [{"filter": "datum.p == 'OND_B'"}], "mark": {"type": "line", "color": "black", "strokeWidth": 2.6}, "encoding": {"x": {"field": "year", "type": "quantitative", "axis": null}, "y": {"field": "ERAint", "type": "quantitative", "axis": null}}},
   {"data": {"name": "stats"}, "transform": [{"filter": "datum.p == 'OND_B'"}], "mark": {"type": "text", "align": "left", "baseline": "top", "dx": 10, "dy": 5, "lineBreak": "\n", "lineHeight": 7.5, "font": "DejaVu Sans", "fontSize": 7.4, "color": "black"}, "encoding": {"x": {"datum": 2000, "type": "quantitative", "axis": null}, "y": {"datum": 2, "type": "quantitative", "axis": null}, "text": {"field": "t"}}},
   {"data": {"name": "stats"}, "transform": [{"filter": "datum.p == 'OND_B'"}], "mark": {"type": "text", "align": "center", "baseline": "alphabetic", "dy": -6, "font": "DejaVu Sans", "fontSize": 16, "color": "black"}, "encoding": {"x": {"datum": 2007, "type": "quantitative", "axis": null}, "y": {"datum": 2, "type": "quantitative", "axis": null}, "text": {"field": "loc"}}},
   {"data": {"values": [{}]}, "mark": {"type": "text", "text": "ERAint", "align": "right", "baseline": "middle", "dx": -6, "font": "DejaVu Sans", "fontSize": 9, "color": "black"}, "encoding": {"x": {"datum": 2014, "type": "quantitative", "axis": null}, "y": {"datum": -1.22, "type": "quantitative", "axis": null}}},
   {"data": {"values": [{}]}, "mark": {"type": "text", "text": "MODIS", "align": "right", "baseline": "middle", "dx": -6, "font": "DejaVu Sans", "fontSize": 9, "color": "#808080"}, "encoding": {"x": {"datum": 2014, "type": "quantitative", "axis": null}, "y": {"datum": -1.63, "type": "quantitative", "axis": null}}}
  ]
}
],
"config": {
  "font": "Liberation Sans",
  "view": {"stroke": "black", "strokeWidth": 1},
  "title": {"anchor": "middle", "frame": "bounds", "font": "Liberation Sans", "fontSize": 23, "fontWeight": "bold", "color": "black", "offset": 5},
  "axis": {"grid": false, "domain": false, "tickColor": "black", "tickWidth": 1, "labelColor": "black", "titleColor": "black", "labelFont": "DejaVu Sans", "labelFontSize": 8.5, "titleFont": "DejaVu Sans", "titleFontSize": 9.5, "titleFontWeight": "normal", "labelOverlap": false, "labelFlush": false},
  "axisLeft": {"labelFont": "Liberation Sans", "labelFontSize": 12, "titleFont": "Liberation Sans", "titleFontSize": 13}
}
}
